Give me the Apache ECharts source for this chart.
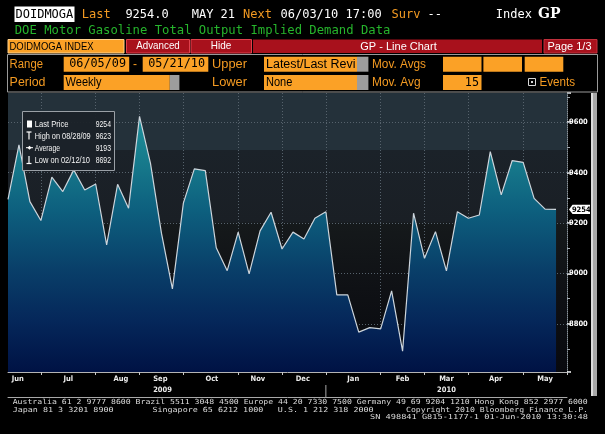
<!DOCTYPE html>
<html><head><meta charset="utf-8">
<script src="https://cdn.jsdelivr.net/npm/echarts@6/dist/echarts.min.js"></script>
<style>html,body{margin:0;padding:0;background:#000;overflow:hidden}#c{width:605px;height:434px}</style>
</head><body><div id="c"></div>
<script>
// ---- data ----
const dates = ['06/05/09','06/12/09','06/19/09','06/26/09','07/03/09','07/10/09','07/17/09','07/24/09','07/31/09',
  '08/07/09','08/14/09','08/21/09','08/28/09','09/04/09','09/11/09','09/18/09','09/25/09',
  '10/02/09','10/09/09','10/16/09','10/23/09','10/30/09','11/06/09','11/13/09','11/20/09','11/27/09',
  '12/04/09','12/11/09','12/18/09','12/25/09','01/01/10','01/08/10','01/15/10','01/22/10','01/29/10',
  '02/05/10','02/12/10','02/19/10','02/26/10','03/05/10','03/12/10','03/19/10','03/26/10',
  '04/02/10','04/09/10','04/16/10','04/23/10','04/30/10','05/07/10','05/14/10','05/21/10'];
const values = [9294,9510,9285,9210,9382,9325,9411,9331,9355,9113,9354,9259,9623,9437,9160,8939,9279,
  9415,9408,9102,9011,9164,8998,9169,9243,9097,9164,9137,9219,9245,8915,8915,8767,8785,8780,
  8931,8692,9239,9060,9166,9010,9245,9219,9232,9483,9312,9448,9441,9298,9255,9254];
const monthEndIdx = [3,8,12,16,21,25,29,34,38,42,47];
const monthLabels = ['Jun','Jul','Aug','Sep','Oct','Nov','Dec','Jan','Feb','Mar','Apr','May'];
const monthPos = [0.9,5.5,10.3,13.9,18.6,22.8,26.9,31.5,36.0,40.0,44.5,49.0];
const yearLabels = ['2009','2010'];
const yearPos = [14.1,40.0];
const yearBreakIdx = 29;
const yTickLabels = [8800,9000,9200,9400,9600];
const averageValue = 9193;

// ---- fonts ----
const COND = "'DejaVu Sans Condensed','Liberation Sans Narrow','Liberation Sans',sans-serif";
const MONO = "'DejaVu Sans Mono','Liberation Mono',monospace";
const SANS = "'Liberation Sans',Arial,sans-serif";
const ORANGE = '#f39a22', BOXOR = '#fba126', RED = '#a8111c';

const mctx = document.createElement('canvas').getContext('2d');
function fontStr(size, family, bold) { return (bold?'bold ':'')+size+'px '+family; }
function T(x, y, text, fill, size, family, o) {
  o = o || {};
  let sx = o.sx || 1;
  if (o.w) { mctx.font = fontStr(size, family, o.bold); sx = o.w / mctx.measureText(text).width; }
  return {type:'text', x:x, y:y, scaleX:sx, silent:true, z:o.z||110,
    style:{text:text, fill:fill, font:fontStr(size, family, o.bold),
      textAlign:o.align||'left', textVerticalAlign:'middle', align:o.align||'left', verticalAlign:'middle'}};
}
function R(x, y, w, h, fill, stroke, lw, z) {
  const st = {fill: fill || 'transparent'};
  if (stroke) { st.stroke = stroke; st.lineWidth = lw || 1; }
  return {type:'rect', shape:{x:x,y:y,width:w,height:h}, style:st, silent:true, z:z||100};
}
function L(x1, y1, x2, y2, c, w, z) {
  return {type:'line', shape:{x1:x1,y1:y1,x2:x2,y2:y2}, style:{stroke:c, lineWidth:w||1}, silent:true, z:z||105};
}

const monthMap = {}; monthPos.forEach((p,i)=>monthMap[Math.round(p*10)] = monthLabels[i]);
const yearMap = {}; yearPos.forEach((p,i)=>yearMap[Math.round(p*10)] = yearLabels[i]);

// stats for legend box
const lastV = values[values.length-1];
let hiI = 0, loI = 0;
values.forEach((v,i)=>{ if (v > values[hiI]) hiI = i; if (v < values[loI]) loI = i; });

const g = [];
// header row 1
g.push(R(14.5,6.5,60,15.5,'#ffffff'));
g.push(T(15.5,14.5,'DOIDMOGA','#000',12,MONO));
g.push(T(81.8,14.5,'Last',ORANGE,12,MONO));
g.push(T(125.4,14.5,lastV.toFixed(1),'#fff',12,MONO));
g.push(T(191.7,14.5,'MAY 21','#fff',12,MONO));
g.push(T(243,14.5,'Next',ORANGE,12,MONO));
g.push(T(280.5,14.5,'06/03/10 17:00','#fff',12,MONO));
g.push(T(391.6,14.5,'Surv',ORANGE,12,MONO));
g.push(T(427.5,14.5,'--','#fff',12,MONO));
g.push(T(495.8,14.5,'Index','#fff',12,MONO));
g.push(T(538,14.5,'GP','#fff',14,"'DejaVu Serif','Liberation Serif',serif",{bold:true}));
// header row 2
g.push(T(14.7,30.8,'DOE Motor Gasoline Total Output Implied Demand Data','#26b52c',12.2,MONO,{w:375.7}));
// row 3
g.push(R(8,39.5,116,13.5,BOXOR,'#ffd08a',1));
g.push(T(9.5,46.5,'DOIDMOGA INDEX','#000',11,SANS,{w:84}));
g.push(R(126.5,39.5,63,13.5,RED,'#e0404c',1));
g.push(T(158,46.2,'Advanced','#fff',10.5,SANS,{align:'center',w:43.6}));
g.push(R(191,39.5,60.5,13.5,RED,'#e0404c',1));
g.push(T(221,46.2,'Hide','#fff',10.5,SANS,{align:'center',w:20.5}));
g.push(R(253,39.5,289,13.5,RED));
g.push(T(398.5,46.5,'GP - Line Chart','#fff',11,SANS,{align:'center',w:76.4}));
g.push(R(544,39.5,53,13.5,RED,'#c0303c',1));
g.push(T(569.5,46.5,'Page 1/3','#fff',11,SANS,{align:'center',w:44}));
// row 4 panel
g.push(R(7.5,54.5,590,37.5,null,'#9a9a9a',1));
g.push(T(9.6,64.3,'Range',ORANGE,12,SANS,{w:33.4}));
g.push(R(63.7,56.7,65.5,15,BOXOR));
g.push(T(126,64.3,'06/05/09','#000',11.8,MONO,{align:'right'}));
g.push(T(133,64.3,'-',ORANGE,12,SANS));
g.push(R(142.7,56.7,65.6,15,BOXOR));
g.push(T(205,64.3,'05/21/10','#000',11.8,MONO,{align:'right'}));
g.push(T(212,64.3,'Upper',ORANGE,12,SANS,{w:35}));
g.push(R(264,56.7,93,15,BOXOR));
g.push(R(357,56.7,11.4,15,'#9d9d9d'));
g.push(T(266,64.3,'Latest/Last Revi','#000',12,SANS,{w:89.5}));
g.push(T(372,64.3,'Mov. Avgs',ORANGE,12,SANS,{w:54}));
g.push(R(443,56.7,38.5,15,BOXOR));
g.push(R(483.4,56.7,38.6,15,BOXOR));
g.push(R(524.7,56.7,38.6,15,BOXOR));
g.push(T(9.6,82.5,'Period',ORANGE,12,SANS,{w:35.9}));
g.push(R(63.7,75,106.1,15,BOXOR));
g.push(R(169.8,75,9.6,15,'#9d9d9d'));
g.push(T(65.6,82.5,'Weekly','#000',12,SANS,{sx:0.92}));
g.push(T(212,82.5,'Lower',ORANGE,12,SANS,{w:35}));
g.push(R(264,75,93,15,BOXOR));
g.push(R(357,75,11.4,15,'#9d9d9d'));
g.push(T(266,82.5,'None','#000',12,SANS,{sx:0.92}));
g.push(T(372,82.5,'Mov. Avg',ORANGE,12,SANS,{w:48.5}));
g.push(R(443,75,38.5,15,BOXOR));
g.push(T(479,82.5,'15','#000',11.8,MONO,{align:'right'}));
g.push(R(528.5,78.5,7,7,null,'#d8d8d8',1));
g.push(R(531,81,2,2,'#d8d8d8'));
g.push(T(539.4,82.5,'Events',ORANGE,12,SANS,{w:35.6}));
// legend box
g.push(R(22.5,111.5,92,59,'rgba(27,34,40,0.95)','#9aa0a6',1));
g.push(R(27,120.5,5,7,'#ffffff',null,1,111));
g.push(L(26.5,132,31.5,132,'#fff',1.2,111)); g.push(L(29,132,29,139.5,'#fff',1.2,111));
g.push(L(26,147.7,33,147.7,'#fff',1,111));
g.push({type:'polygon', shape:{points:[[29.5,145.7],[31.5,147.7],[29.5,149.7],[27.5,147.7]]}, style:{fill:'#fff'}, silent:true, z:111});
g.push(L(29,156,29,163.5,'#fff',1.2,111)); g.push(L(26.5,163.5,31.5,163.5,'#fff',1.2,111));
const LF = 9.8, LC = '#f4f4f4';
g.push(T(34.7,124,'Last Price',LC,LF,SANS,{w:33.7}));
g.push(T(111,124,String(lastV),LC,LF,SANS,{w:15.3,align:'right'}));
g.push(T(34.7,135.8,'High on '+dates[hiI],LC,LF,SANS,{w:56}));
g.push(T(111,135.8,String(values[hiI]),LC,LF,SANS,{w:15.3,align:'right'}));
g.push(T(34.7,147.8,'Average',LC,LF,SANS,{w:25.3}));
g.push(T(111,147.8,String(averageValue),LC,LF,SANS,{w:15.3,align:'right'}));
g.push(T(34.7,160,'Low on '+dates[loI],LC,LF,SANS,{w:55.3}));
g.push(T(111,160,String(values[loI]),LC,LF,SANS,{w:15.3,align:'right'}));
// scrollbar
g.push(R(591,93,6,303,'#a8a8a8'));
g.push(R(591,93,2,303,'#dcdcdc'));
// footer
const FC = '#dadada', FS = 7, CW = 5.04;
function foot(x, y, s, align, w) { g.push(T(x, y, s, FC, FS, MONO, {w: w || s.length*CW, align: align||'left'})); }
foot(12.7,402.6,'Australia 61 2 9777 8600 Brazil 5511 3048 4500 Europe 44 20 7330 7500 Germany 49 69 9204 1210 Hong Kong 852 2977 6000','left',575);
foot(12.7,410,'Japan 81 3 3201 8900');
foot(152.4,410,'Singapore 65 6212 1000');
foot(277.8,410,'U.S. 1 212 318 2000');
foot(588,410,'Copyright 2010 Bloomberg Finance L.P.','right',182);
foot(588,416.9,'SN 498841 G815-1177-1 01-Jun-2010 13:30:48','right',218);

const chart = echarts.init(document.getElementById('c'), null, {renderer:'canvas'});
const gridLineStyle = {color:'#56626c', width:1, type:[1,2]};
const axisFont = {color:'#ececec', fontSize:7.5, fontWeight:'bold', fontFamily:COND};
const option = {
  backgroundColor:'#000',
  animation:false,
  grid:{left:8, right:38, top:93, bottom:62, show:true, borderWidth:0,
    backgroundColor:{type:'linear', x:0, y:0, x2:0, y2:1, colorStops:[
      {offset:0,color:'#24313a'},{offset:0.204,color:'#24313a'},{offset:0.206,color:'#1b2229'},
      {offset:0.46,color:'#1a1f25'},{offset:0.47,color:'#15191b'},{offset:0.7,color:'#0f1115'},{offset:1,color:'#08090e'}]}},
  xAxis:[
    {type:'category', data:dates.concat(['']), boundaryGap:false,
     axisLine:{show:true, onZero:false, lineStyle:{color:'#b4b4b4', width:1}},
     axisTick:{show:true, interval:(i)=>monthEndIdx.indexOf(i) >= 0 || i === dates.length, length:3, lineStyle:{color:'#c8c8c8'}},
     axisLabel:{show:false},
     splitLine:{show:true, interval:(i)=>monthEndIdx.indexOf(i) >= 0, lineStyle:gridLineStyle}},
    {type:'value', min:0, max:dates.length, interval:0.1, position:'bottom',
     axisLine:{show:false, onZero:false}, axisTick:{show:false}, splitLine:{show:false},
     axisLabel:Object.assign({margin:3, formatter:(v)=>monthMap[Math.round(v*10)]||''}, axisFont)},
    {type:'value', min:0, max:dates.length, interval:0.1, position:'bottom', offset:25,
     axisLine:{show:true, onZero:false, lineStyle:{color:'#a8a8a8', width:1}}, axisTick:{show:false}, splitLine:{show:false},
     axisLabel:Object.assign({inside:true, margin:3, formatter:(v)=>yearMap[Math.round(v*10)]||''}, axisFont)}
  ],
  yAxis:[
    {type:'value', position:'right', min:8609, max:9716, splitNumber:5, minInterval:200, maxInterval:200,
     axisLine:{show:true, onZero:false, lineStyle:{color:'#8a949c', width:1, type:[1,1]}},
     axisTick:{show:true, length:4, lineStyle:{color:'#ffffff', width:1.5}},
     axisLabel:Object.assign({margin:2, formatter:(v)=>yTickLabels.indexOf(v) >= 0 ? String(v) : ''}, axisFont, {color:'#ffffff'}),
     splitLine:{show:true, showMinLine:false, showMaxLine:false, lineStyle:gridLineStyle}},
    {type:'value', position:'right', min:8609, max:9716, splitNumber:11, minInterval:100, maxInterval:100,
     axisLine:{show:false, onZero:false}, axisTick:{show:true, length:3, lineStyle:{color:'#a0a8b0', width:1}},
     axisLabel:{show:false}, splitLine:{show:false}}
  ],
  series:[{
    type:'line', data:values, xAxisIndex:0, yAxisIndex:0, symbol:'none', smooth:false,
    lineStyle:{color:'#cdd5dc', width:1.2},
    areaStyle:{opacity:1, color:{type:'linear', x:0, y:0, x2:0, y2:1, colorStops:[
      {offset:0,color:'#1f909c'},{offset:0.17,color:'#177b8c'},{offset:0.37,color:'#0d5f7e'},
      {offset:0.6,color:'#093f69'},{offset:0.8,color:'#05275a'},{offset:1,color:'#001244'}]}}
  }],
  graphic:{elements:g}
};
chart.setOption(option);

// price tag on the right axis and year divider, placed through the axes' scales
const tagPt = chart.convertToPixel({xAxisIndex:0, yAxisIndex:0}, [values.length-1, lastV]);
const divX = chart.convertToPixel({xAxisIndex:0}, yearBreakIdx);
const py = tagPt[1];
g.push({type:'polygon', shape:{points:[[569,py],[572.5,py-4.6],[590,py-4.6],[590,py+4.6],[572.5,py+4.6]]}, style:{fill:'#ffffff'}, silent:true, z:120});
g.push(T(581.3,py+0.3,String(lastV),'#000',7.5,COND,{bold:true,align:'center',z:121}));
g.push(L(divX,385,divX,397,'#a8a8a8',1,105));
chart.setOption({graphic:{elements:g}});
</script>
</body></html>
